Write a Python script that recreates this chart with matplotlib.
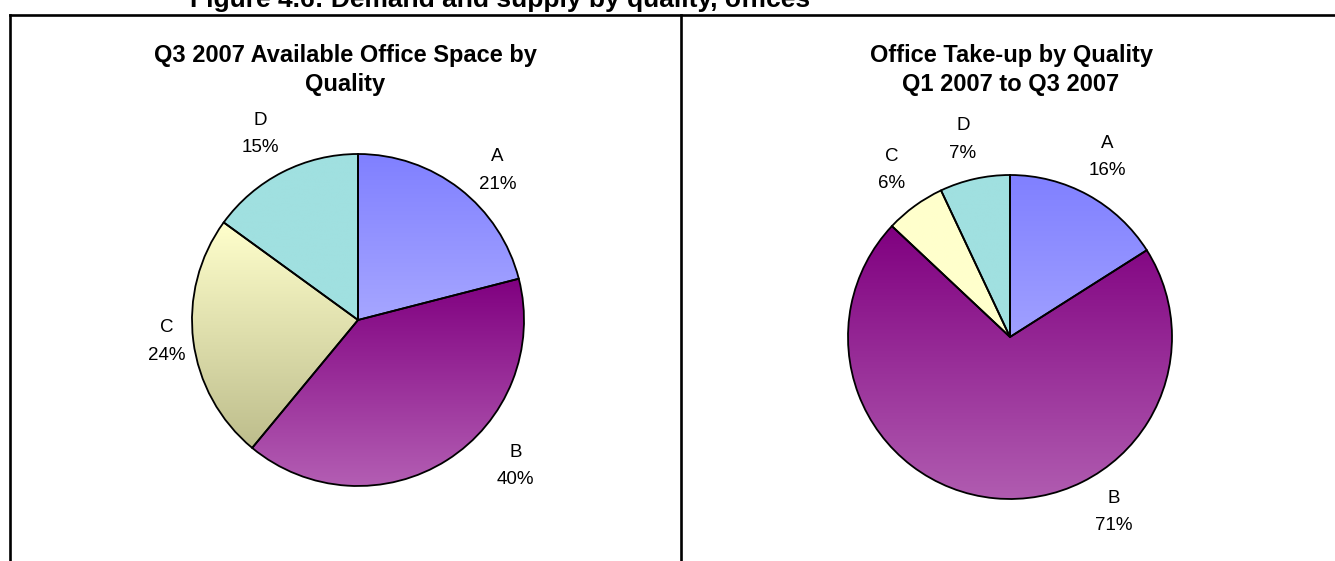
import numpy as np
import matplotlib
matplotlib.use("Agg")
import matplotlib.pyplot as plt
from matplotlib.lines import Line2D
from matplotlib.colors import to_rgb

plt.rcParams['font.family'] = ['Liberation Sans', 'DejaVu Sans']

# data
categories = ["A", "B", "C", "D"]
available_space = [21, 40, 24, 15]      # Q3 2007 available office space, %
take_up = [16, 71, 6, 7]                # take-up Q1 2007 to Q3 2007, %

fig_title = "Figure 4.6: Demand and supply by quality, offices"
left_title = ["Q3 2007 Available Office Space by", "Quality"]
right_title = ["Office Take-up by Quality", "Q1 2007 to Q3 2007"]

# gradient colours (top, bottom) per category
grad_left = [("#8080FF", "#A6A6FF"), ("#800080", "#B35EB3"),
             ("#FFFFCC", "#BDBD8C"), ("#A0E0E0", "#A0E0E0")]
grad_right = [("#8080FF", "#A0A0FF"), ("#800080", "#B05CB0"),
              ("#FFFFCC", "#FFFFCC"), ("#A0E0E0", "#A0E0E0")]

# label offsets from pie centre, in radius units
lab_left = [(0.84, 0.90), (0.95, -0.88), (-1.15, -0.13), (-0.59, 1.12)]
lab_right = [(0.60, 1.11), (0.64, -1.08), (-0.73, 1.03), (-0.29, 1.22)]

W, H = 1335, 561
fig = plt.figure(figsize=(W / 100, H / 100), dpi=100)


def px_axes(cx, cy, r):
    ax = fig.add_axes([(cx - r) / W, (H - cy - r) / H, 2 * r / W, 2 * r / H])
    ax.axis('off')
    return ax


def gradient_pie(ax, values, grads, label_pos):
    wedges, _ = ax.pie(values, startangle=90, counterclock=False,
                       colors=['none'] * len(values),
                       wedgeprops=dict(edgecolor='black', linewidth=1.3))
    for w, (c_top, c_bot) in zip(wedges, grads):
        t = np.radians(np.linspace(w.theta1, w.theta2, 200))
        xs = np.concatenate([[0], np.cos(t)])
        ys = np.concatenate([[0], np.sin(t)])
        top, bot = np.array(to_rgb(c_top)), np.array(to_rgb(c_bot))
        f = np.linspace(0, 1, 256)[:, None]
        img = (top * (1 - f) + bot * f)[:, None, :]
        im = ax.imshow(img, extent=(xs.min(), xs.max(), ys.min(), ys.max()),
                       origin='upper', aspect='auto', zorder=0.5,
                       interpolation='bilinear')
        im.set_clip_path(w)
    ax.set_xlim(-1, 1)
    ax.set_ylim(-1, 1)
    for name, v, (lx, ly) in zip(categories, values, label_pos):
        ax.text(lx, ly, f"{name}\n{v}%", ha='center', va='center',
                fontsize=13.5, linespacing=1.8)


ax1 = px_axes(358, 320, 166)
gradient_pie(ax1, available_space, grad_left, lab_left)

ax2 = px_axes(1010, 337, 162)
gradient_pie(ax2, take_up, grad_right, lab_right)

# titles
for i, line in enumerate(left_title):
    fig.text(345 / W, 1 - (62 + 29 * i) / H, line, ha='center', va='baseline',
             fontsize=17, fontweight='bold')
for i, line in enumerate(right_title):
    fig.text(1011 / W, 1 - (62 + 29 * i) / H, line, ha='center', va='baseline',
             fontsize=17, fontweight='bold')
fig.text(500 / W, 1 - 7 / H, fig_title, ha='center', va='baseline',
         fontsize=19, fontweight='bold')

# frame lines
lw = 1.9
fig.add_artist(Line2D([9.5 / W, 1], [1 - 14.5 / H, 1 - 14.5 / H], color='black', lw=lw))
fig.add_artist(Line2D([9.5 / W, 9.5 / W], [0, 1 - 14.5 / H], color='black', lw=lw))
fig.add_artist(Line2D([681 / W, 681 / W], [0, 1 - 14.5 / H], color='black', lw=lw))

fig.savefig("out.png", dpi=100)
